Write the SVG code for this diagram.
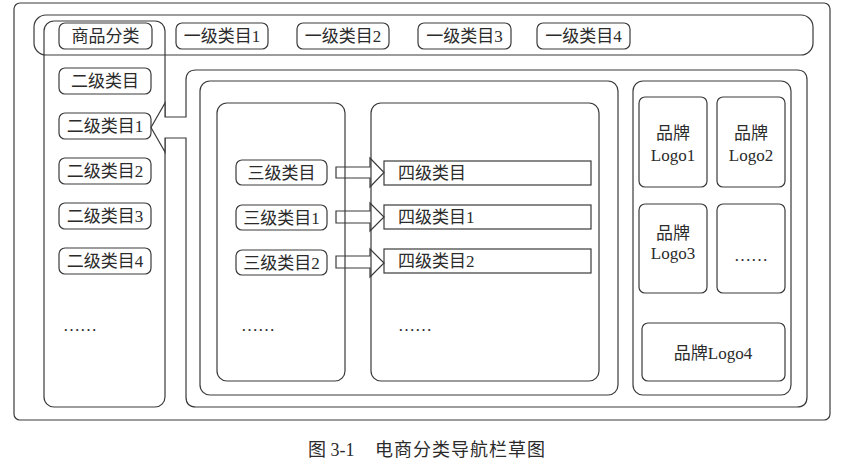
<svg xmlns="http://www.w3.org/2000/svg" width="847" height="462" viewBox="0 0 847 462">
<style>
.ln{fill:none;stroke:#3a3a3a;stroke-width:1.2}
.wf{fill:#fff;stroke:#3a3a3a;stroke-width:1.2}
.t{font-family:"Liberation Serif","Noto Sans CJK SC",serif;font-size:17px;fill:#2b2b2b}
.c{text-anchor:middle}
.cap{font-size:18px}
</style>
<rect width="847" height="462" fill="#fff"/>
<g id="frame"><rect class="ln" x="14" y="3" width="816" height="417" rx="6"/></g>
<g id="topbar"><rect class="ln" x="34" y="15" width="779" height="40" rx="12"/></g>
<g id="leftcol"><rect class="ln" x="44" y="21" width="121" height="386" rx="10"/></g>
<g id="btn-root"><rect class="ln" x="59" y="23" width="93" height="26" rx="6"/><text class="t c" x="105.5" y="42">商品分类</text></g>
<g id="l1-1"><rect class="ln" x="176" y="23" width="92" height="26" rx="6"/><text class="t c" x="222" y="42">一级类目1</text></g>
<g id="l1-2"><rect class="ln" x="297" y="23" width="92" height="26" rx="6"/><text class="t c" x="343" y="42">一级类目2</text></g>
<g id="l1-3"><rect class="ln" x="418" y="23" width="93" height="26" rx="6"/><text class="t c" x="464.5" y="42">一级类目3</text></g>
<g id="l1-4"><rect class="ln" x="537" y="23" width="93" height="26" rx="6"/><text class="t c" x="583.5" y="42">一级类目4</text></g>
<g id="l2-0"><rect class="ln" x="59" y="68" width="92" height="26" rx="6"/><text class="t c" x="105" y="87">二级类目</text></g>
<g id="l2-2"><rect class="ln" x="59" y="158" width="92" height="26" rx="6"/><text class="t c" x="105" y="177">二级类目2</text></g>
<g id="l2-3"><rect class="ln" x="59" y="203" width="92" height="26" rx="6"/><text class="t c" x="105" y="222">二级类目3</text></g>
<g id="l2-4"><rect class="ln" x="59" y="248" width="92" height="26" rx="6"/><text class="t c" x="105" y="267">二级类目4</text></g>
<g id="l2-more"><text class="t" x="63" y="331">……</text></g>
<g id="bigpanel"><path class="wf" d="M186 117 V80 Q186 70 196 70 H797 Q807 70 807 80 V397 Q807 407 797 407 H196 Q186 407 186 397 V138 H165 V152 L151 127.5 L165 103 V117 Z"/></g>
<g id="l2-1"><rect class="ln" x="59" y="113" width="92" height="26" rx="6"/><text class="t c" x="105" y="132">二级类目1</text></g>
<g id="midpanel"><rect class="ln" x="200" y="81" width="418" height="314" rx="10"/></g>
<g id="l3col"><rect class="ln" x="217" y="103" width="128" height="278" rx="10"/><text class="t" x="241" y="331">……</text></g>
<g id="l4col"><rect class="ln" x="371" y="103" width="228" height="278" rx="10"/><text class="t" x="398" y="331">……</text></g>
<g id="l3-0"><rect class="ln" x="236" y="160" width="91" height="25" rx="6"/><text class="t c" x="281.5" y="178.5">三级类目</text></g>
<g id="l3-1"><rect class="ln" x="236" y="205" width="91" height="25" rx="6"/><text class="t c" x="281.5" y="223.5">三级类目1</text></g>
<g id="l3-2"><rect class="ln" x="236" y="250" width="91" height="25" rx="6"/><text class="t c" x="281.5" y="268.5">三级类目2</text></g>
<g id="l4-0"><rect class="ln" x="384" y="161" width="207" height="24"/><text class="t" x="398" y="179">四级类目</text></g>
<g id="l4-1"><rect class="ln" x="384" y="205" width="207" height="24"/><text class="t" x="398" y="223">四级类目1</text></g>
<g id="l4-2"><rect class="ln" x="384" y="249" width="207" height="24"/><text class="t" x="398" y="267">四级类目2</text></g>
<g id="connectors">
<path class="ln" d="M336 167 H370 V158 L384 172.5 L370 187 V178 H336 Z"/>
<path class="ln" d="M336 211 H370 V203 L384 217 L370 231 V223 H336 Z"/>
<path class="ln" d="M336 256 H370 V249 L384 263 L370 277 V268 H336 Z"/>
</g>
<g id="brandpanel"><rect class="ln" x="633" y="81" width="158" height="314" rx="10"/></g>
<g id="brand1"><rect class="ln" x="639" y="97" width="68" height="90" rx="6"/><text class="t c" x="673" y="139">品牌</text><text class="t c" x="673" y="161">Logo1</text></g>
<g id="brand2"><rect class="ln" x="717" y="97" width="68" height="90" rx="6"/><text class="t c" x="751" y="139">品牌</text><text class="t c" x="751" y="161">Logo2</text></g>
<g id="brand3"><rect class="ln" x="639" y="204" width="68" height="89" rx="6"/><text class="t c" x="673" y="239">品牌</text><text class="t c" x="673" y="259">Logo3</text></g>
<g id="brand-more"><rect class="ln" x="717" y="204" width="68" height="89" rx="6"/><text class="t c" x="751" y="261">……</text></g>
<g id="brand4"><rect class="ln" x="642" y="323" width="143" height="58" rx="6"/><text class="t c" x="713" y="359">品牌Logo4</text></g>
<g id="caption"><text class="t cap" x="308" y="456">图 3-1<tspan x="375" letter-spacing="1">电商分类导航栏草图</tspan></text></g>
</svg>
